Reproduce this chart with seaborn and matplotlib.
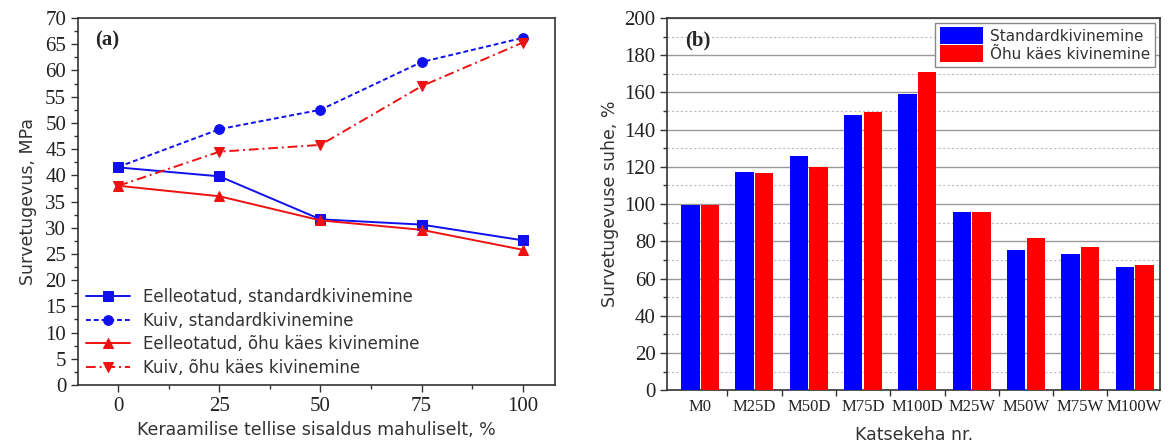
import numpy as np
import pandas as pd
import matplotlib
matplotlib.use("Agg")
import matplotlib.pyplot as plt
from matplotlib.ticker import MultipleLocator, FixedLocator
import seaborn as sns

# ---------- data ----------
content = [0, 25, 50, 75, 100]
eel_std = [41.5, 39.8, 31.6, 30.6, 27.6]
kuiv_std = [41.6, 48.8, 52.5, 61.6, 66.2]
eel_ohu = [38.0, 36.0, 31.4, 29.6, 25.8]
kuiv_ohu = [38.0, 44.5, 45.8, 57.0, 65.3]
line_labels = ["Eelleotatud, standardkivinemine", "Kuiv, standardkivinemine",
               "Eelleotatud, õhu käes kivinemine", "Kuiv, õhu käes kivinemine"]

specimens = ["M0", "M25D", "M50D", "M75D", "M100D", "M25W", "M50W", "M75W", "M100W"]
ratio_std = [99.5, 117, 126, 148, 159, 95.5, 75.5, 73, 66]
ratio_ohu = [99.5, 116.5, 120, 149.5, 171, 96, 82, 77, 67]
bar_labels = ["Standardkivinemine", "Õhu käes kivinemine"]

sns.set_theme(style="white")
plt.rcParams['font.family'] = ['DejaVu Sans']
serif = 'Liberation Serif'

fig = plt.figure(figsize=(11.69, 4.48), dpi=100)
axL = fig.add_axes([0.0667, 0.1406, 0.408, 0.8192])
axR = fig.add_axes([0.571, 0.129, 0.421, 0.831])

# ---------- left: lines ----------
dfL = pd.DataFrame({
    "x": content * 4,
    "y": eel_std + kuiv_std + eel_ohu + kuiv_ohu,
    "s": sum([[l] * 5 for l in line_labels], []),
})
blue, red = "#1010ee", "#ee1111"
styles = {
    line_labels[0]: dict(color=blue, ls="-", marker="s"),
    line_labels[1]: dict(color=blue, ls=(0, (2.5, 1.5)), marker="o"),
    line_labels[2]: dict(color=red, ls="-", marker="^"),
    line_labels[3]: dict(color=red, ls=(0, (5, 2, 1, 2)), marker="v"),
}
for lab in line_labels:
    st = styles[lab]
    sns.lineplot(data=dfL[dfL.s == lab], x="x", y="y", ax=axL, color=st["color"],
                 linestyle=st["ls"], marker=st["marker"], markersize=7,
                 markeredgecolor=st["color"], linewidth=1.4, label=lab)
axL.set_xlim(-10, 108)
axL.set_ylim(0, 70)
axL.xaxis.set_major_locator(FixedLocator(content))
axL.xaxis.set_minor_locator(MultipleLocator(12.5))
axL.yaxis.set_major_locator(MultipleLocator(5))
axL.yaxis.set_minor_locator(MultipleLocator(2.5))
axL.tick_params(which="major", direction="out", length=5, width=1, colors="#333333",
                labelsize=15, left=True, bottom=True, labelcolor="#222222")
axL.tick_params(which="minor", direction="out", length=3, width=1, colors="#333333",
                left=True, bottom=True)
for t in axL.get_xticklabels() + axL.get_yticklabels():
    t.set_fontfamily(serif)
axL.set_xlabel("Keraamilise tellise sisaldus mahuliselt, %", fontsize=12.5, color="#333333")
axL.set_ylabel("Survetugevus, MPa", fontsize=12.5, color="#333333", labelpad=6)
for sp in axL.spines.values():
    sp.set_color("#333333"); sp.set_linewidth(1.2)
axL.text(0.035, 0.94, "(a)", transform=axL.transAxes, fontfamily=serif,
         fontweight="bold", fontsize=15, va="center", ha="left")
axL.legend(loc="lower left", bbox_to_anchor=(0.0, 0.0), frameon=False, fontsize=12,
           handlelength=2.6, labelspacing=0.33, borderaxespad=0.1, labelcolor="#333333")

# ---------- right: bars ----------
dfR = pd.DataFrame({
    "spec": specimens * 2,
    "val": ratio_std + ratio_ohu,
    "kind": [bar_labels[0]] * 9 + [bar_labels[1]] * 9,
})
sns.barplot(data=dfR, x="spec", y="val", hue="kind", order=specimens,
            hue_order=bar_labels, palette=["#0000ff", "#ff0000"], ax=axR,
            width=0.72, gap=0.06, saturation=1, edgecolor="none", zorder=3)
axR.set_ylim(0, 200)
axR.set_xlim(-0.6, 8.46)
axR.yaxis.set_major_locator(MultipleLocator(20))
axR.yaxis.set_minor_locator(MultipleLocator(10))
axR.xaxis.set_minor_locator(FixedLocator(np.arange(0.5, 8.5, 1)))
axR.grid(which="major", axis="y", color="#999999", linewidth=1.0, zorder=0)
axR.grid(which="minor", axis="y", color="#bbbbbb", linewidth=0.8, linestyle=(0, (2, 2)), zorder=0)
axR.set_axisbelow(True)
axR.tick_params(axis="y", which="major", direction="out", length=5, width=1,
                colors="#333333", labelsize=15, left=True, labelcolor="#222222")
axR.tick_params(axis="y", which="minor", direction="out", length=3, width=1,
                colors="#333333", left=True)
axR.tick_params(axis="x", which="major", length=0, labelsize=12, labelcolor="#222222", pad=6)
axR.tick_params(axis="x", which="minor", direction="out", length=4, width=1,
                colors="#333333", bottom=True)
for t in axR.get_xticklabels() + axR.get_yticklabels():
    t.set_fontfamily(serif)
axR.set_xlabel("Katsekeha nr.", fontsize=12.5, color="#333333", labelpad=8)
axR.set_ylabel("Survetugevuse suhe, %", fontsize=12.5, color="#333333", labelpad=4)
for sp in axR.spines.values():
    sp.set_color("#333333"); sp.set_linewidth(1.2)
axR.text(0.035, 0.94, "(b)", transform=axR.transAxes, fontfamily=serif,
         fontweight="bold", fontsize=15, va="center", ha="left")
leg = axR.legend(loc="upper right", fontsize=11, frameon=True, fancybox=False,
                 handlelength=2.8, handleheight=1.3, labelspacing=0.1,
                 borderpad=0.3, borderaxespad=0.3, handletextpad=0.5,
                 labelcolor="#333333")
leg.get_frame().set_edgecolor("#888888")
leg.get_frame().set_facecolor("white")
leg.get_frame().set_alpha(1)
leg.set_zorder(5)

fig.savefig("out.png", dpi=100)
